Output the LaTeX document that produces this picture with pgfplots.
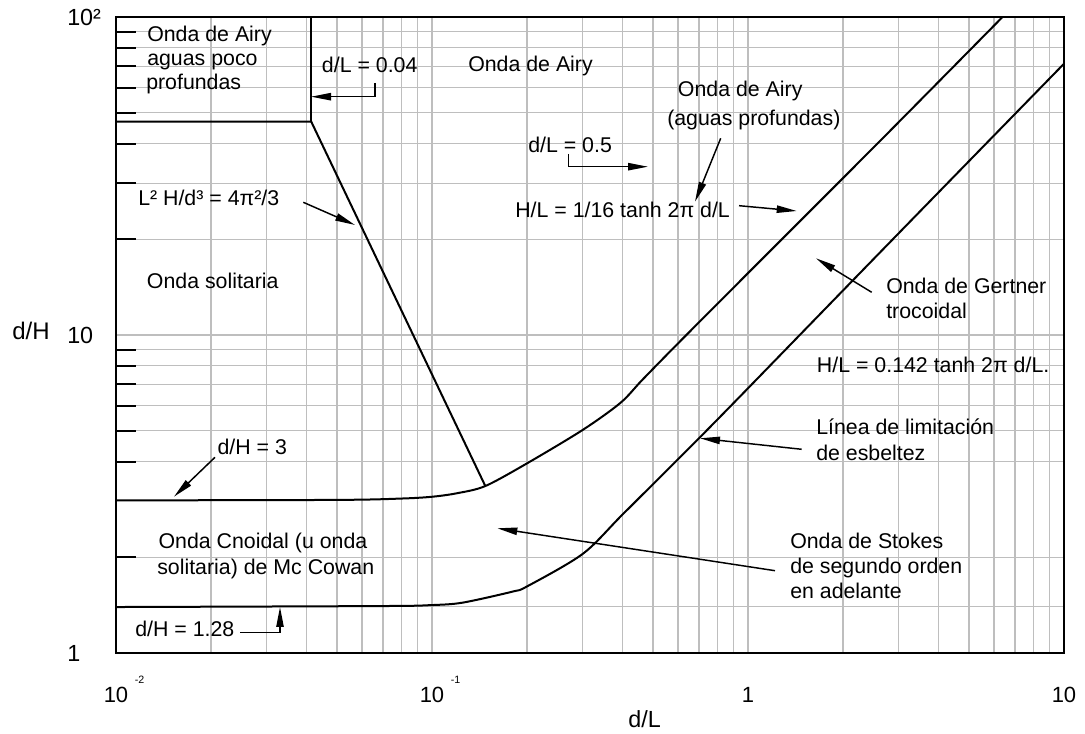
\documentclass[border=0pt]{standalone}
\usepackage{fontspec}
\setmainfont{Liberation Sans}
\usepackage{pgfplots}
\pgfplotsset{compat=1.18}
\usetikzlibrary{arrows.meta}
\definecolor{gridgray}{RGB}{190,190,190}
\newcommand{\tenpow}[1]{10\rlap{\hspace{5pt}\raisebox{14pt}{\fontsize{8}{8}\selectfont #1}}}
\begin{document}
\begin{tikzpicture}[
  lbl/.style={anchor=base west, inner sep=0pt, font=\fontsize{16}{18}\selectfont},
  arr/.style={line width=1.1pt, -{Triangle[length=15pt,width=5.5pt]}},
]
\begin{axis}[
  scale only axis, width=711pt, height=477pt,
  xmode=log, ymode=log,
  xmin=0.01, xmax=10, ymin=1, ymax=100,
  axis line style={line width=1.8pt},
  xtick={0.01,0.1,1,10},
  xticklabels={\tenpow{-2},\tenpow{-1},1,10},
  minor xtick={0.02,0.03,0.04,0.05,0.06,0.07,0.08,0.09,0.2,0.3,0.4,0.5,0.6,0.7,0.8,0.9,2,3,4,5,6,7,8,9},
  ytick={1,10,100},
  yticklabels={1,10,10²},
  minor ytick={1.4,2,4,5,6,7,8,9,20,30,40,50,60,70,80,90},
  grid=both,
  major grid style={gridgray, line width=1pt},
  minor grid style={gridgray, line width=1pt},
  tick pos=left,
  tick align=inside,
  major tick length=0pt,
  minor tick length=15pt,
  xtick style={draw=none},
  ytick style={black, line width=1.5pt},
  xticklabel style={anchor=base, yshift=-36.75pt, inner sep=0pt, font=\fontsize{16.5}{18}\selectfont},
  yticklabel style={anchor=west, xshift=-36.75pt, inner sep=0pt, font=\fontsize{17.5}{18}\selectfont},
  xlabel={d/L}, ylabel={d/H},
  every axis x label/.style={at={(axis description cs:0.5,0)}, anchor=base, xshift=41pt, yshift=-55.5pt, inner sep=0pt, font=\fontsize{17.5}{18}\selectfont},
  every axis y label/.style={at={(axis description cs:0,0.5)}, anchor=base west, xshift=-78pt, yshift=-3.75pt, inner sep=0pt, font=\fontsize{18}{18}\selectfont},
]
\addplot[black, line width=1.5pt, smooth] coordinates {(0.01,3.02) (0.05,3.03) (0.08,3.06) (0.1,3.10) (0.12,3.18) (0.1475,3.35) (0.2,3.95) (0.3,5.03) (0.395,6.12) (0.4626,7.22) (0.6,9.4) (1,15.65) (2.633,41) (6.39,100)};
\addplot[black, line width=1.5pt, smooth] coordinates {(0.01,1.395) (0.07,1.405) (0.1,1.415) (0.125,1.44) (0.18,1.56) (0.2,1.62) (0.3,2.05) (0.4,2.72) (0.6115,4.14) (0.708,4.79) (1,6.8) (2.633,18.3) (10,71.3)};
\addplot[black, line width=1.5pt] coordinates {(0.01,46.9) (0.04147,46.9) (0.1475,3.35)};
\addplot[black, line width=1.5pt] coordinates {(0.04147,46.9) (0.04147,100)};
\coordinate (NW) at (rel axis cs:0,1);
\end{axis}
\begin{scope}[shift={(NW)}, x=0.75pt, y=-0.75pt, shift={(-116,-17)}]
\node[lbl] at (147,41.7) {Onda de Airy};
\node[lbl] at (147,65.5) {aguas poco};
\node[lbl] at (146,90) {profundas};
\node[lbl] at (321.7,72.3) {d/L = 0.04};
\node[lbl] at (468,71.7) {Onda de Airy};
\node[lbl] at (677.7,96.7) {Onda de Airy};
\node[lbl] at (667,126) {(aguas profundas)};
\node[lbl] at (528,152.3) {d/L = 0.5};
\node[lbl] at (515,217.7) {H/L = 1/16 tanh 2π d/L};
\node[lbl] at (138,206) {L² H/d³ = 4π²/3};
\node[lbl] at (146.7,289) {Onda solitaria};
\node[lbl] at (217.3,455) {d/H = 3};
\node[lbl] at (158.3,549) {Onda Cnoidal (u onda};
\node[lbl] at (157,575) {solitaria) de Mc Cowan};
\node[lbl] at (135,636.7) {d/H = 1.28};
\node[lbl] at (790,548.3) {Onda de Stokes};
\node[lbl] at (790,573.5) {de segundo orden};
\node[lbl] at (790,599) {en adelante};
\node[lbl] at (886,293.3) {Onda de Gertner};
\node[lbl] at (886,318.3) {trocoidal};
\node[lbl] at (816.7,372.7) {H/L = 0.142 tanh 2π d/L.};
\node[lbl] at (816,435) {Línea de limitación};
\node[lbl] at (816,461) {de esbeltez};
\draw[arr] (375,83) -- (375,96.7) -- (311,96.7);
\draw[arr] (720.7,138.3) -- (695,201.7);
\draw[arr] (568.3,154) -- (568.3,166.7) -- (648,166.7);
\draw[arr] (739,205.7) -- (796.7,211);
\draw[arr] (303.3,202.3) -- (355,225);
\draw[arr] (215,457.3) -- (174,496.7);
\draw[arr] (240,632.7) -- (280,632.7) -- (280,607);
\draw[arr] (775,570.7) -- (497.3,528.3);
\draw[arr] (871.7,292.3) -- (816,258.3);
\draw[arr] (801.7,449.3) -- (700,438.3);
\pgfresetboundingbox
\path[use as bounding box] (0,0) rectangle (1085,734);
\end{scope}
\end{tikzpicture}
\end{document}
